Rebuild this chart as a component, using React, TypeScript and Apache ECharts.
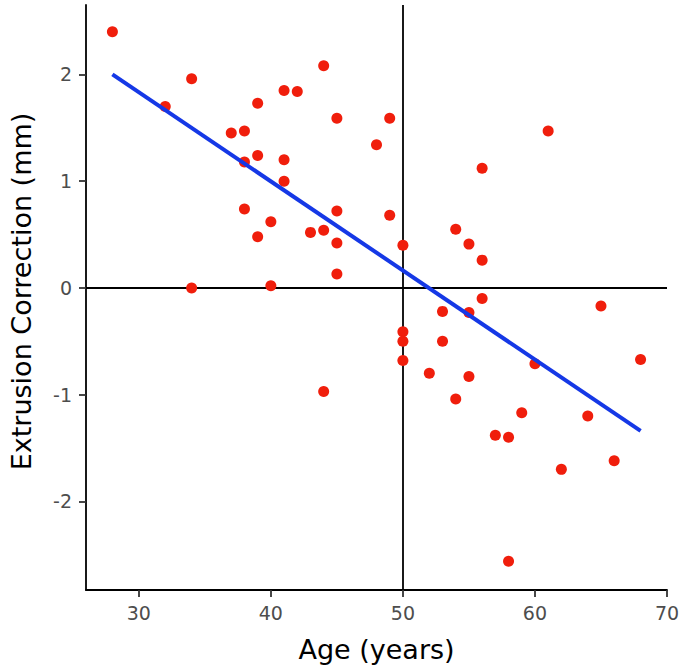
import React, { useEffect, useRef } from "react";
import * as echarts from "echarts";

const ages = [28, 32, 34, 37, 38, 39, 41, 42, 44, 45, 49, 48, 38, 39, 41, 41, 38, 40, 39, 43, 44, 45, 45, 49, 50, 45, 34, 40, 56, 61, 54, 55, 56, 56, 53, 55, 65, 50, 50, 53, 50, 68, 60, 52, 55, 54, 59, 64, 57, 58, 66, 62, 58, 44];
const corrections = [2.40, 1.70, 1.96, 1.45, 1.47, 1.73, 1.85, 1.84, 2.08, 1.59, 1.59, 1.34, 1.18, 1.24, 1.20, 1.00, 0.74, 0.62, 0.48, 0.52, 0.54, 0.72, 0.42, 0.68, 0.40, 0.13, 0.00, 0.02, 1.12, 1.47, 0.55, 0.41, 0.26, -0.10, -0.22, -0.23, -0.17, -0.41, -0.50, -0.50, -0.68, -0.67, -0.71, -0.80, -0.83, -1.04, -1.17, -1.20, -1.38, -1.40, -1.62, -1.70, -2.56, -0.97];
const fitAges = [28, 68];
const fitValues = [2.00, -1.34];
const xTicks = [30, 40, 50, 60, 70];
const yTicks = [-2, -1, 0, 1, 2];
const refAge = 50;
const refValue = 0;

const FONT = "DejaVu Sans";

export default function App() {
  const ref = useRef<HTMLDivElement>(null);
  useEffect(() => {
    if (!ref.current) return;
    const chart = echarts.init(ref.current, null, { renderer: "svg" });
    chart.setOption({
      animation: false,
      backgroundColor: "#ffffff",
      grid: { left: 85, right: 18, top: 5, bottom: 79, containLabel: false },
      xAxis: {
        type: "value",
        min: 26,
        max: 70,
        name: "Age (years)",
        nameLocation: "middle",
        nameGap: 46,
        nameTextStyle: { fontFamily: FONT, fontSize: 27, color: "#000000" },
        axisLine: { show: true, onZero: false, lineStyle: { color: "#000000", width: 1.8 } },
        axisTick: { show: true, length: 7, customValues: xTicks, lineStyle: { color: "#333333", width: 1.8 } },
        axisLabel: { customValues: xTicks, fontFamily: FONT, fontSize: 19, color: "#4D4D4D", margin: 13, showMaxLabel: true, showMinLabel: true },
        splitLine: { show: false },
      },
      yAxis: {
        type: "value",
        min: -2.83,
        max: 2.65,
        name: "Extrusion Correction (mm)",
        nameLocation: "middle",
        nameGap: 51,
        nameRotate: 90,
        nameTextStyle: { fontFamily: FONT, fontSize: 27, color: "#000000", padding: [0, 0, 0, 12] },
        axisLine: { show: true, onZero: false, lineStyle: { color: "#000000", width: 1.8 } },
        axisTick: { show: true, length: 7, customValues: yTicks, lineStyle: { color: "#333333", width: 1.8 } },
        axisLabel: { customValues: yTicks, fontFamily: FONT, fontSize: 19, color: "#4D4D4D", margin: 14, showMaxLabel: true, showMinLabel: true },
        splitLine: { show: false },
      },
      series: [
        {
          type: "scatter",
          data: ages.map((a, i) => [a, corrections[i]]),
          symbol: "circle",
          symbolSize: 11,
          itemStyle: { color: "#F01E0C", opacity: 1 },
          z: 3,
          markLine: {
            silent: true,
            symbol: ["none", "none"],
            label: { show: false },
            lineStyle: { color: "#000000", width: 1.8, type: "solid" },
            z: 1,
            data: [{ xAxis: refAge }, { yAxis: refValue }],
          },
        },
        {
          type: "line",
          data: fitAges.map((a, i) => [a, fitValues[i]]),
          showSymbol: false,
          symbol: "none",
          lineStyle: { color: "#1538E6", width: 4 },
          z: 5,
        },
      ],
    });
    return () => chart.dispose();
  }, []);
  return <div ref={ref} style={{ position: "absolute", left: 0, top: 0, width: 685, height: 669 }} />;
}
